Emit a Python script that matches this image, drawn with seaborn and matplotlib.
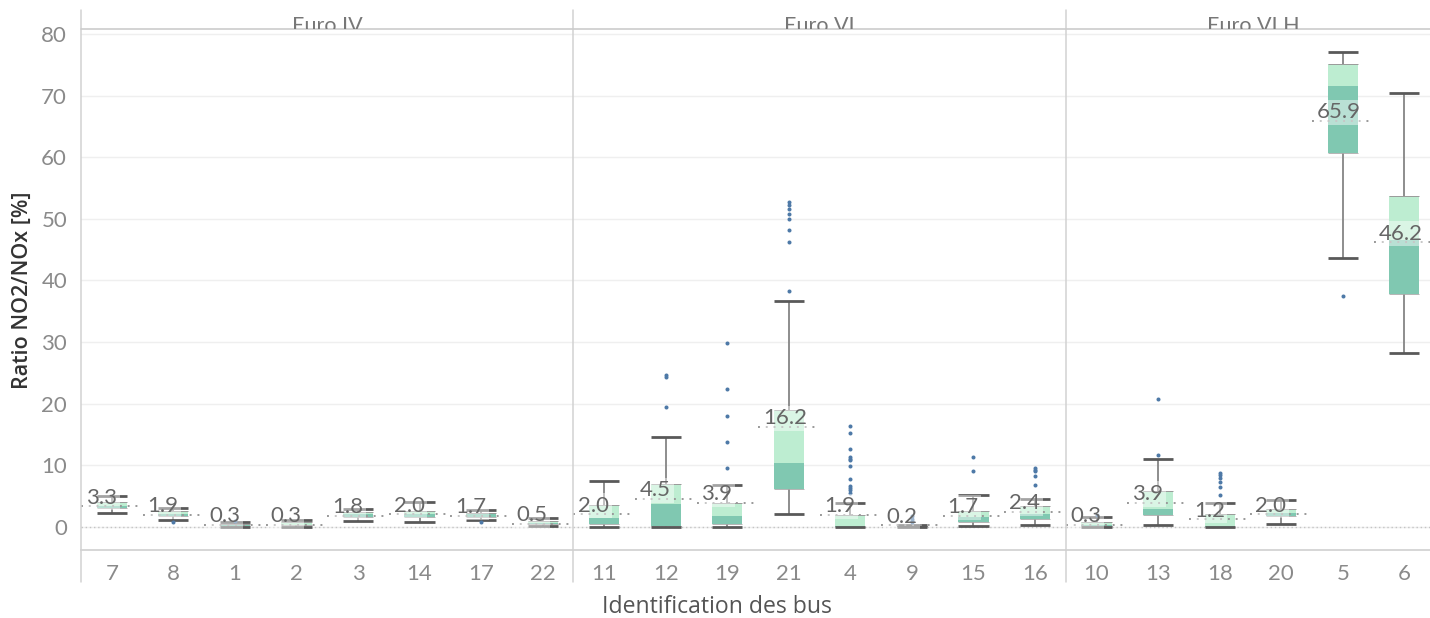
import numpy as np
import pandas as pd
import matplotlib
matplotlib.use("Agg")
import matplotlib.pyplot as plt
from matplotlib.lines import Line2D
from matplotlib.transforms import Bbox, TransformedBbox
import seaborn as sns

# ---- data -----------------------------------------------------------------
groups = ["Euro IV", "Euro VI", "Euro VI H"]
buses_euro4 = ["7", "8", "1", "2", "3", "14", "17", "22"]
buses_euro6 = ["11", "12", "19", "21", "4", "9", "15", "16"]
buses_euro6h = ["10", "13", "18", "20", "5", "6"]

# box-plot statistics of the NO2/NOx ratio (%), one entry per bus in the order above
whisker_low = [2.2, 1.1, 0.0, 0.0, 0.9, 0.8, 1.1, 0.1,
               0.0, 0.0, 0.0, 2.1, 0.0, 0.0, 0.1, 0.2,
               0.0, 0.2, 0.0, 0.4, 43.7, 28.2]
quart1 = [3.0, 1.8, 0.1, 0.2, 1.6, 1.6, 1.6, 0.4,
          0.4, 0.1, 0.5, 6.2, 0.0, 0.0, 0.7, 1.3,
          0.1, 1.9, 0.0, 1.7, 60.7, 37.8]
median = [3.4, 2.1, 0.2, 0.35, 2.0, 2.1, 2.0, 0.6,
          1.4, 3.7, 1.8, 10.4, 0.05, 0.05, 1.6, 2.1,
          0.3, 2.9, 0.1, 2.2, 71.6, 46.5]
quart3 = [4.0, 2.5, 0.4, 0.75, 2.4, 2.6, 2.3, 1.0,
          3.6, 6.9, 3.8, 19.0, 1.9, 0.15, 2.5, 3.3,
          0.8, 5.8, 2.0, 2.9, 75.1, 53.7]
whisker_high = [5.0, 3.1, 0.7, 1.1, 2.9, 4.0, 2.7, 1.4,
                7.5, 14.6, 6.8, 36.7, 3.8, 0.3, 5.2, 4.5,
                1.5, 11.0, 3.8, 4.4, 77.1, 70.5]
mean_ratio = [3.3, 1.9, 0.3, 0.3, 1.8, 2.0, 1.7, 0.5,
              2.0, 4.5, 3.9, 16.2, 1.9, 0.2, 1.7, 2.4,
              0.3, 3.9, 1.2, 2.0, 65.9, 46.2]

# individual measurements beyond the whiskers
outlier_bus = (["8", "1", "17"]
               + ["12"] * 3 + ["19"] * 5 + ["21"] * 8 + ["4"] * 12
               + ["9"] * 4 + ["15"] * 2 + ["16"] * 5
               + ["10"] + ["13"] * 2 + ["18"] * 6 + ["5"])
outlier_value = ([0.8, 0.9, 0.8]
                 + [24.7, 24.4, 19.5]
                 + [29.8, 22.3, 18.0, 13.7, 9.5]
                 + [52.7, 52.3, 51.6, 50.8, 50.0, 48.2, 46.3, 38.3]
                 + [16.4, 15.2, 12.6, 11.3, 11.0, 10.8, 9.9, 7.8, 6.6, 6.3, 5.9, 5.5]
                 + [0.7, 1.0, 1.3, 1.7]
                 + [11.4, 9.1]
                 + [9.5, 9.25, 9.0, 8.2, 6.8]
                 + [1.9]
                 + [20.8, 11.7]
                 + [8.8, 8.4, 7.9, 7.2, 6.5, 5.2]
                 + [37.4])

y_ticks = list(range(0, 81, 10))

bus_lists = [buses_euro4, buses_euro6, buses_euro6h]
stats = pd.DataFrame({
    "group": sum([[g] * len(b) for g, b in zip(groups, bus_lists)], []),
    "bus": sum(bus_lists, []),
    "low": whisker_low, "q1": quart1, "med": median, "q3": quart3,
    "high": whisker_high, "mean": mean_ratio,
})
stats["lower_part"] = stats["med"] - stats["q1"]
stats["upper_part"] = stats["q3"] - stats["med"]
outliers = pd.DataFrame({"bus": outlier_bus, "value": outlier_value})

# ---- style ----------------------------------------------------------------
sns.set_theme(style="white")
plt.rcParams["font.family"] = ["Lato", "DejaVu Sans"]

DARK = "#80C8B1"
LIGHT = "#BDEDD1"
CAP = "#595959"
WHISK = "#858585"
DOT = "#4E79A7"
TICK = "#8a8a8a"
BOX_W = 0.49
FS = 16

W, H = 1430, 618
fig = plt.figure(figsize=(W / 100, H / 100), dpi=100)

def fx(px):
    return px / W

def fy(py):
    return 1 - py / H

left0, col_w = 81.0, 61.55
top_px, bot_px = 29.3, 550.0
y_lo, y_hi = -3.78, 80.8

axes = []
x_px = left0
for g, buses in zip(groups, bus_lists):
    width_px = col_w * len(buses)
    ax = fig.add_axes([fx(x_px), fy(bot_px), fx(width_px), (bot_px - top_px) / H])
    axes.append((ax, g, buses, x_px, width_px))
    x_px += width_px

for ax, g, order, x0, wpx in axes:
    sub = stats[stats["group"] == g].set_index("bus").loc[order].reset_index()
    pos = np.arange(len(order))

    # two-tone boxes: Q1 -> median (dark), median -> Q3 (light)
    sns.barplot(data=sub, x="bus", y="lower_part", order=order,
                bottom=sub["q1"].to_numpy(), color=DARK, saturation=1,
                width=BOX_W, errorbar=None, linewidth=0, zorder=2, ax=ax)
    sns.barplot(data=sub, x="bus", y="upper_part", order=order,
                bottom=sub["med"].to_numpy(), color=LIGHT, saturation=1,
                width=BOX_W, errorbar=None, linewidth=0, zorder=2, ax=ax)

    # whiskers, caps and box edges
    ax.vlines(pos, sub["q3"], sub["high"], color=WHISK, lw=1.3, zorder=1.8)
    ax.vlines(pos, sub["low"], sub["q1"], color=WHISK, lw=1.3, zorder=1.8)
    ax.hlines(sub["q1"], pos - BOX_W / 2, pos + BOX_W / 2, color="#a8a8a8", lw=0.6, zorder=2.5)
    ax.hlines(sub["q3"], pos - BOX_W / 2, pos + BOX_W / 2, color="#9a9a9a", lw=0.7, zorder=2.5)
    for col in ("low", "high"):
        ax.hlines(sub[col], pos - BOX_W / 2, pos + BOX_W / 2, color=CAP, lw=2.0, zorder=3)

    # outliers
    out_sub = outliers[outliers["bus"].isin(order)]
    sns.stripplot(data=out_sub, x="bus", y="value", order=order, jitter=False,
                  color=DOT, size=2.9, linewidth=0, zorder=6, ax=ax)

    # zero reference line
    ax.axhline(0, color="#c4c4c4", lw=1, ls=(0, (1, 2)), zorder=1)

    # mean line with its label
    ax.hlines(sub["mean"], pos - 0.5, pos + 0.45, color="#999999", lw=1.4,
              linestyles=[(0, (1, 3))], zorder=4)
    for p, m in zip(pos, sub["mean"]):
        ax.annotate(f"{m:.1f}", (p - 0.42, m), xytext=(0, 2), textcoords="offset points",
                    ha="left", va="baseline", fontsize=FS, color="#666666",
                    bbox=dict(boxstyle="square,pad=0.12", fc="white", ec="none", alpha=0.45),
                    zorder=7, annotation_clip=False)

    ax.set_xlim(-0.5, len(order) - 0.5)
    ax.set_ylim(y_lo, y_hi)
    ax.set_yticks(y_ticks)
    ax.yaxis.grid(True, color="#efefef", lw=1)
    ax.xaxis.grid(False)
    ax.set_axisbelow(True)
    ax.set_xlabel("")
    ax.set_ylabel("")
    for s in ("top", "left", "right"):
        ax.spines[s].set_visible(False)
    ax.spines["bottom"].set_color("#cfcfcf")
    ax.spines["bottom"].set_linewidth(1.2)
    ax.set_xticks(pos)
    ax.set_xticklabels(order)
    ax.set_xticks(np.arange(-0.5, len(order)), minor=True)
    ax.tick_params(axis="x", which="major", length=0, pad=10, labelsize=FS, labelcolor=TICK)
    ax.tick_params(axis="x", which="minor", length=5, width=1, color="#e2e2e2")
    if ax is axes[0][0]:
        ax.tick_params(axis="y", length=0, pad=10, labelsize=FS, labelcolor=TICK)
    else:
        ax.tick_params(axis="y", length=0, labelleft=False)

    # facet header, cut by the header rule
    t = fig.text(fx(x0 + wpx / 2 if g != "Euro VI H" else 1253),
                 fy(31.5), g, ha="center", va="baseline", fontsize=15.5, color="#777777")
    t.set_clip_box(TransformedBbox(Bbox.from_extents(0, fy(top_px), 1, 1), fig.transFigure))
    t.set_clip_on(True)

# frame lines between facets and header rule
for xs in (81.0, 81.0 + col_w * 8, 81.0 + col_w * 16):
    fig.add_artist(Line2D([fx(xs), fx(xs)], [fy(10), fy(582)], color="#d2d2d2", lw=1.1))
fig.add_artist(Line2D([fx(81), 1], [fy(top_px), fy(top_px)], color="#cccccc", lw=1.2))

fig.text(fx(22), fy(290), "Ratio NO2/NOx [%]", rotation=90, ha="center", va="center",
         fontsize=15.5, fontweight="semibold", color="#333333",
         family=["Open Sans", "DejaVu Sans"])
fig.text(fx(717), fy(607), "Identification des bus", ha="center", va="center",
         fontsize=16.6, color="#555555", family=["Open Sans", "DejaVu Sans"])

fig.savefig("out.png", dpi=100)
